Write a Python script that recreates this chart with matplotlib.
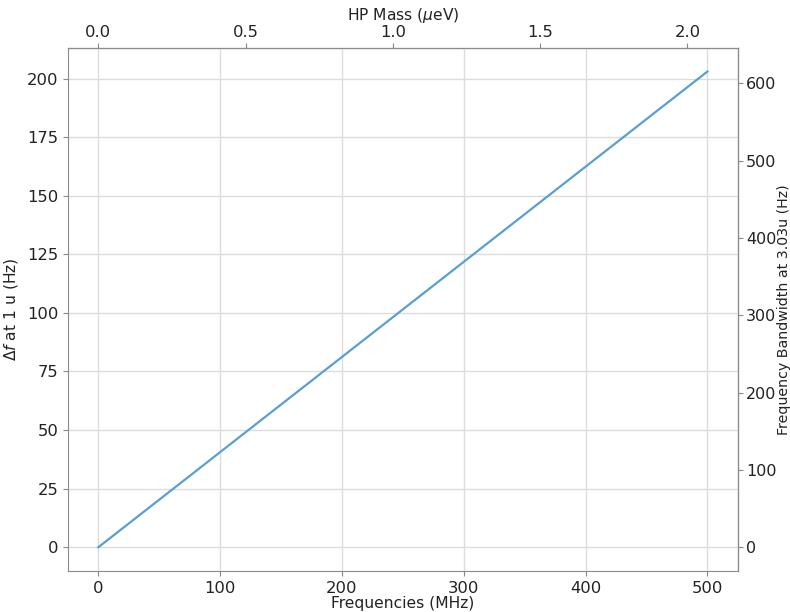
import matplotlib
matplotlib.use("Agg")
import matplotlib.pyplot as plt

# frequency scan (MHz) and frequency step at 1 u (Hz)
freqs = [0, 50, 100, 150, 200, 250, 300, 350, 400, 450, 500]
delta_f = [0, 20.3, 40.6, 60.9, 81.2, 101.5, 121.8, 142.1, 162.4, 182.7, 203.0]

EV_PER_MHZ = 4.1357e-3   # h * 1 MHz in micro-eV
BW_FACTOR = 3.03

plt.rcParams["font.family"] = "DejaVu Sans"
plt.rcParams["font.size"] = 11.2

fig, ax = plt.subplots(figsize=(7.9, 6.12), dpi=100)
fig.subplots_adjust(left=0.086, right=0.934, bottom=0.067, top=0.922)

ax.plot(freqs, delta_f, color="#5a9fd4", lw=1.6)

ax.grid(True, color="#dcdcdc", lw=1.0)
ax.set_axisbelow(True)
for s in ax.spines.values():
    s.set_color("#8a8a8a")
ax.tick_params(colors="#8a8a8a", labelcolor="#222222", labelsize=11.8)
ax.set_xlabel("Frequencies (MHz)", color="#222222", labelpad=0)
ax.set_ylabel(r"$\Delta f$ at 1 u (Hz)", color="#222222", labelpad=5)

top = ax.secondary_xaxis("top", functions=(lambda f: f * EV_PER_MHZ,
                                            lambda m: m / EV_PER_MHZ))
top.set_xlabel(r"HP Mass ($\mu$eV)", color="#222222", labelpad=4)
top.tick_params(colors="#8a8a8a", labelcolor="#222222", labelsize=11.8, pad=2)
top.set_xticks([0.0, 0.5, 1.0, 1.5, 2.0])

right = ax.secondary_yaxis("right", functions=(lambda y: y * BW_FACTOR,
                                               lambda b: b / BW_FACTOR))
right.set_ylabel("Frequency Bandwidth at 3.03u (Hz)", color="#222222",
                 labelpad=0, fontsize=10.2)
right.tick_params(colors="#8a8a8a", labelcolor="#222222", labelsize=11.5,
                  pad=2.5)

# the secondary axes only carry one axis each; hide the unused labels
for a in (ax, top, right):
    a.xaxis.get_offset_text().set_visible(False)
    a.yaxis.get_offset_text().set_visible(False)
top.yaxis.label.set_visible(False)
right.xaxis.label.set_visible(False)

plt.savefig("out.png", dpi=100)
